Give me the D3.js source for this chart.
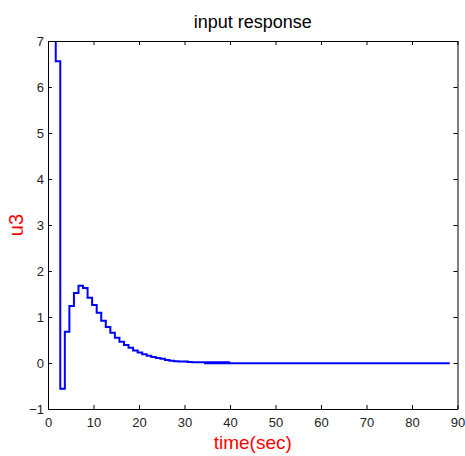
<!DOCTYPE html>
<html>
<head>
<meta charset="utf-8">
<script src="https://cdn.jsdelivr.net/npm/d3@7"></script>
<style>
  html, body { margin: 0; padding: 0; background: #ffffff; }
  svg { display: block; }
</style>
</head>
<body>
<div id="chart"></div>
<script>
// ---- data ----
const sampleStart = 0.7;   // first sample time (sec)
const samplePeriod = 1;    // sample time (sec)
const u3Values = [7.0, 6.56, -0.56, 0.68, 1.24, 1.52, 1.68, 1.63, 1.42, 1.26,
                  1.09, 0.92, 0.78, 0.66, 0.55, 0.46, 0.39, 0.33, 0.27, 0.23,
                  0.19, 0.16, 0.13, 0.11, 0.09, 0.065, 0.05, 0.04, 0.03, 0.03,
                  0.02, 0.015];
const u3EndTime = 40;
const tailTimes = [34.3, 88.3];
const tailValues = [-0.008, -0.008];
const xTicks = [0, 10, 20, 30, 40, 50, 60, 70, 80, 90];
const yTicks = [-1, 0, 1, 2, 3, 4, 5, 6, 7];
const titleText = "input response";
const xLabelText = "time(sec)";
const yLabelText = "u3";

// ---- layout ----
const W = 465, H = 456;
const L = 48, R = 457.5, T = 41, B = 409;

const svg = d3.select("#chart").append("svg").attr("width", W).attr("height", H);

const x = d3.scaleLinear().domain([0, 90]).range([L, R]);
const y = d3.scaleLinear().domain([-1, 7]).range([B, T]);

svg.append("defs").append("clipPath").attr("id", "clip")
  .append("rect").attr("x", L).attr("y", T).attr("width", R - L).attr("height", B - T);

// series
const mainPts = u3Values.map((v, i) => [sampleStart + i * samplePeriod, v]);
mainPts.push([u3EndTime, u3Values[u3Values.length - 1]]);
const tailPts = tailTimes.map((t, i) => [t, tailValues[i]]);

const line = d3.line().x(d => x(d[0])).y(d => y(d[1])).curve(d3.curveStepAfter);
const g = svg.append("g").attr("clip-path", "url(#clip)");
g.append("path").datum(tailPts).attr("d", line)
  .attr("fill", "none").attr("stroke", "#0000ff").attr("stroke-width", 2);
g.append("path").datum(mainPts).attr("d", line)
  .attr("fill", "none").attr("stroke", "#0000ff").attr("stroke-width", 2);

// axes (ticks inward, on all four sides)
const fontFam = "Arial, 'Liberation Sans', sans-serif";
const tickLen = 4;
const axBottom = svg.append("g").attr("transform", `translate(0,${B})`)
  .call(d3.axisBottom(x).tickValues(xTicks).tickSizeInner(-tickLen).tickSizeOuter(0).tickPadding(9));
const axTop = svg.append("g").attr("transform", `translate(0,${T})`)
  .call(d3.axisTop(x).tickValues(xTicks).tickSizeInner(-tickLen).tickSizeOuter(0).tickFormat(""));
const axLeft = svg.append("g").attr("transform", `translate(${L},0)`)
  .call(d3.axisLeft(y).tickValues(yTicks).tickSizeInner(-tickLen).tickSizeOuter(0).tickPadding(9));
const axRight = svg.append("g").attr("transform", `translate(${R},0)`)
  .call(d3.axisRight(y).tickValues(yTicks).tickSizeInner(-tickLen).tickSizeOuter(0).tickFormat(""));

[axBottom, axTop, axLeft, axRight].forEach(a => {
  a.select(".domain").attr("stroke", "#000").attr("stroke-width", 1);
  a.selectAll(".tick line").attr("stroke", "#000");
  a.selectAll(".tick text").attr("font-family", fontFam).attr("font-size", 13).attr("fill", "#222");
});
axLeft.selectAll(".tick text").attr("x", -4);

// title and labels
svg.append("text").attr("x", (L + R) / 2).attr("y", 28).attr("text-anchor", "middle")
  .attr("font-family", fontFam).attr("font-size", 18).attr("fill", "#000").text(titleText);
svg.append("text").attr("x", (L + R) / 2).attr("y", 449).attr("text-anchor", "middle")
  .attr("font-family", fontFam).attr("font-size", 19).attr("fill", "#ff0000").text(xLabelText);
svg.append("text").attr("transform", `translate(23,${(T + B) / 2}) rotate(-90)`)
  .attr("text-anchor", "middle")
  .attr("font-family", fontFam).attr("font-size", 20).attr("fill", "#ff0000").text(yLabelText);
</script>
</body>
</html>
